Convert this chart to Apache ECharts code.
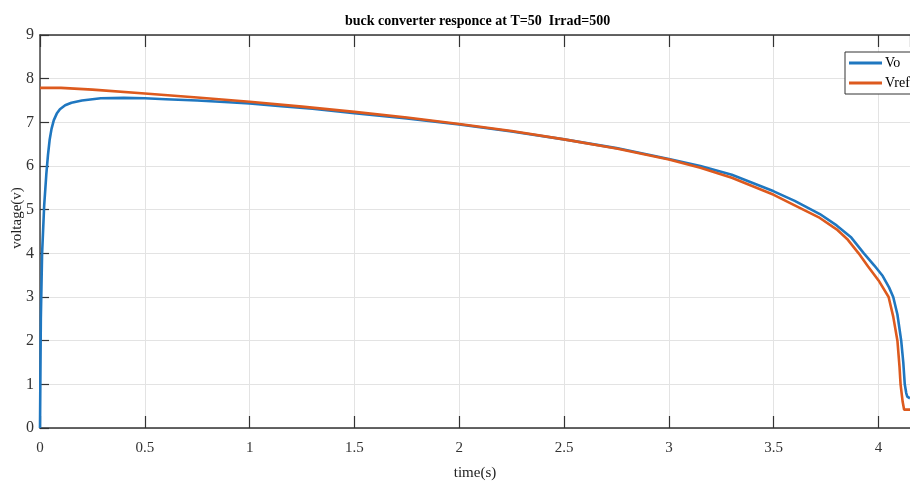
<!DOCTYPE html>
<html>
<head>
<meta charset="utf-8">
<title>buck converter responce</title>
<script src="https://cdn.jsdelivr.net/npm/echarts/dist/echarts.min.js"></script>
<style>
  html, body { margin: 0; padding: 0; background: #fff; }
  #chart { width: 910px; height: 486px; }
</style>
</head>
<body>
<div id="chart"></div>
<script>
// Vo (blue)
var timeVo = [0, 0.004, 0.01, 0.02, 0.03, 0.038, 0.046, 0.055, 0.066, 0.08, 0.095, 0.12, 0.15, 0.2, 0.29, 0.4, 0.5, 0.6, 0.75, 0.9, 1.0, 1.15, 1.3, 1.5, 1.75, 2.0, 2.25, 2.5, 2.75, 3.0, 3.15, 3.3, 3.5, 3.6, 3.72, 3.8, 3.87, 3.93, 3.98, 4.02, 4.05, 4.07, 4.09, 4.108, 4.118, 4.125, 4.132, 4.137, 4.145, 4.15];
var vo     = [0, 2.5, 4.0, 5.1, 5.8, 6.25, 6.6, 6.85, 7.05, 7.2, 7.3, 7.39, 7.45, 7.5, 7.55, 7.56, 7.55, 7.53, 7.5, 7.46, 7.43, 7.37, 7.31, 7.21, 7.09, 6.95, 6.79, 6.61, 6.41, 6.16, 6.0, 5.8, 5.42, 5.2, 4.9, 4.64, 4.36, 4.0, 3.72, 3.48, 3.22, 3.0, 2.6, 2.0, 1.5, 1.0, 0.8, 0.72, 0.7, 0.68];

// Vref (orange)
var timeRef = [0, 0.1, 0.25, 0.5, 0.75, 1.0, 1.25, 1.5, 1.75, 2.0, 2.25, 2.5, 2.75, 3.0, 3.15, 3.3, 3.5, 3.6, 3.72, 3.8, 3.85, 3.905, 3.95, 4.0, 4.048, 4.07, 4.09, 4.1, 4.105, 4.115, 4.122, 4.15];
var vref    = [7.79, 7.79, 7.75, 7.66, 7.57, 7.47, 7.36, 7.24, 7.11, 6.96, 6.8, 6.61, 6.4, 6.15, 5.96, 5.73, 5.34, 5.1, 4.81, 4.55, 4.33, 4.0, 3.7, 3.38, 3.0, 2.55, 2.0, 1.4, 1.0, 0.6, 0.42, 0.42];

var xTicks = [0, 4.15, 0.5];   // min, max, step
var yTicks = [0, 9, 1];

function pairs(xs, ys) {
  var out = [];
  for (var i = 0; i < xs.length; i++) out.push([xs[i], ys[i]]);
  return out;
}

var serif = '"Liberation Serif", "DejaVu Serif", serif';
var myChart = echarts.init(document.getElementById('chart'));

myChart.setOption({
  animation: false,
  title: {
    text: 'buck converter responce at T=50  Irrad=500',
    left: 340,
    top: 9,
    textStyle: { fontFamily: serif, fontSize: 14, fontWeight: 'bold', color: '#000' }
  },
  legend: {
    orient: 'vertical',
    left: 845,
    top: 52,
    padding: [4, 6, 4, 4],
    itemGap: 6,
    itemWidth: 33,
    itemHeight: 3,
    icon: 'rect',
    backgroundColor: '#fff',
    borderColor: '#333',
    borderWidth: 1,
    borderRadius: 0,
    textStyle: { fontFamily: serif, fontSize: 14, color: '#000', padding: [0, 0, 0, -2] },
    data: ['Vo', 'Vref']
  },
  grid: {
    left: 40,
    right: 0,
    top: 35,
    bottom: 54
  },
  xAxis: [
    {
      type: 'value',
      min: xTicks[0],
      max: xTicks[1],
      interval: xTicks[2],
      name: 'time(s)',
      nameLocation: 'middle',
      nameGap: 38,
      nameTextStyle: { fontFamily: serif, fontSize: 15, color: '#222' },
      axisLine: { show: true, lineStyle: { color: '#333', width: 1.5 } },
      axisTick: { show: true, inside: true, length: 12, lineStyle: { color: '#333', width: 1.2 } },
      axisLabel: { fontFamily: serif, fontSize: 15, color: '#333', margin: 13, showMaxLabel: false },
      splitLine: { show: true, lineStyle: { color: '#e3e3e3', width: 1 } }
    },
    {
      // top border with ticks
      type: 'value',
      position: 'top',
      min: xTicks[0],
      max: xTicks[1],
      interval: xTicks[2],
      axisLine: { show: true, lineStyle: { color: '#333', width: 1.5 } },
      axisTick: { show: true, inside: true, length: 12, lineStyle: { color: '#333', width: 1.2 } },
      axisLabel: { show: false },
      splitLine: { show: false }
    }
  ],
  yAxis: {
    type: 'value',
    min: yTicks[0],
    max: yTicks[1],
    interval: yTicks[2],
    axisLine: { show: true, lineStyle: { color: '#444', width: 1.5 } },
    axisTick: { show: true, inside: true, length: 9, lineStyle: { color: '#333', width: 1.2 } },
    axisLabel: { fontFamily: serif, fontSize: 16, color: '#333', margin: 6 },
    splitLine: { show: true, lineStyle: { color: '#e3e3e3', width: 1 } }
  },
  graphic: [
    {
      type: 'text',
      x: 17,
      y: 218,
      rotation: Math.PI / 2,
      style: {
        text: 'voltage(v)',
        fontFamily: serif,
        fontSize: 15,
        fill: '#222',
        align: 'center',
        verticalAlign: 'middle'
      }
    }
  ],
  series: [
    {
      name: 'Vo',
      type: 'line',
      showSymbol: false,
      data: pairs(timeVo, vo),
      lineStyle: { color: '#1f77c0', width: 2.6 },
      itemStyle: { color: '#1f77c0' }
    },
    {
      name: 'Vref',
      type: 'line',
      showSymbol: false,
      data: pairs(timeRef, vref),
      lineStyle: { color: '#dd5a1e', width: 2.6 },
      itemStyle: { color: '#dd5a1e' }
    }
  ]
});
</script>
</body>
</html>
